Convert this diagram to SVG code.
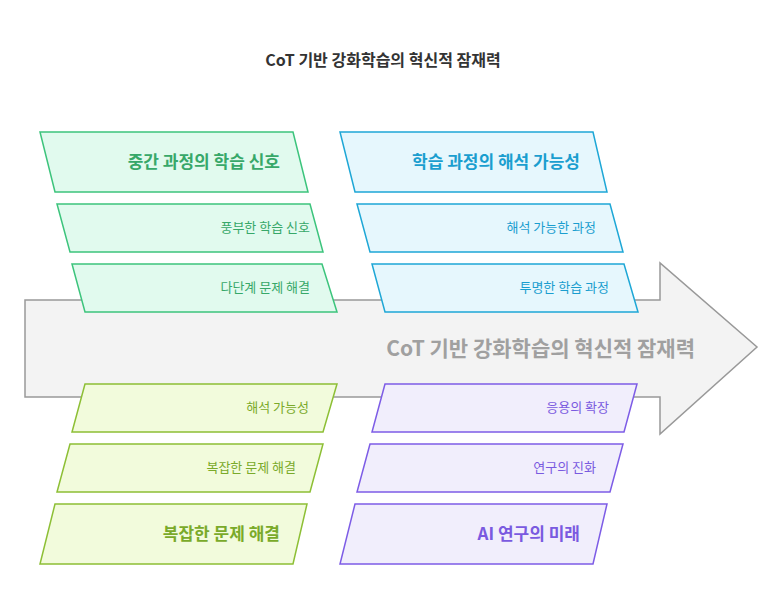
<svg xmlns="http://www.w3.org/2000/svg" width="782" height="614" viewBox="0 0 782 614">
<style>
text{font-family:"Noto Sans CJK KR","Noto Sans",sans-serif}
.t{font-size:13px;text-anchor:end}
.h{font-size:17px;font-weight:bold;text-anchor:end}
.g path{fill:#e1faee;stroke:#3cc47c;stroke-width:1.5}.g text{fill:#37a869}
.b path{fill:#e6f7fd;stroke:#1ea7d6;stroke-width:1.5}.b text{fill:#1a9ecf}
.l path{fill:#f2fbdc;stroke:#8dbf35;stroke-width:1.5}.l text{fill:#7aaa2a}
.p path{fill:#f1eefc;stroke:#7d5ce6;stroke-width:1.5}.p text{fill:#7a5ae0}
</style>
<rect width="782" height="614" fill="#fff"/>
<text x="383" y="66" text-anchor="middle" font-size="16" font-weight="bold" fill="#333">CoT 기반 강화학습의 혁신적 잠재력</text>
<g id="arrow">
<path d="M25 300H660V263L757 347L660 434V397H25Z" fill="#f3f3f3" stroke="#999" stroke-width="1.5"/>
<text x="695" y="356" text-anchor="end" font-size="21" font-weight="bold" fill="#a0a0a0">CoT 기반 강화학습의 혁신적 잠재력</text>
</g>
<g id="connectors"></g>
<g id="green" class="g">
<g id="g1"><path d="M40 132H293L308 192H55Z"/><text class="h" x="280" y="168">중간 과정의 학습 신호</text></g>
<g id="g2"><path d="M57 204H310L323 252H70Z"/><text class="t" x="310" y="232">풍부한 학습 신호</text></g>
<g id="g3"><path d="M72 264H322L337 312H85Z"/><text class="t" x="310" y="292">다단계 문제 해결</text></g>
</g>
<g id="blue" class="b">
<g id="b1"><path d="M340 132H593L607 192H355Z"/><text class="h" x="580" y="168">학습 과정의 해석 가능성</text></g>
<g id="b2"><path d="M357 204H610L623 252H370Z"/><text class="t" x="596" y="232">해석 가능한 과정</text></g>
<g id="b3"><path d="M372 264H624L638 312H385Z"/><text class="t" x="609" y="292">투명한 학습 과정</text></g>
</g>
<g id="lime" class="l">
<g id="l1"><path d="M85 384H337L323 432H72Z"/><text class="t" x="309" y="412">해석 가능성</text></g>
<g id="l2"><path d="M70 444H323L310 492H57Z"/><text class="t" x="296" y="472">복잡한 문제 해결</text></g>
<g id="l3"><path d="M55 504H307L293 564H40Z"/><text class="h" x="280" y="540">복잡한 문제 해결</text></g>
</g>
<g id="purple" class="p">
<g id="p1"><path d="M385 384H637L624 432H372Z"/><text class="t" x="609" y="412">응용의 확장</text></g>
<g id="p2"><path d="M370 444H623L610 492H357Z"/><text class="t" x="596" y="472">연구의 진화</text></g>
<g id="p3"><path d="M355 504H607L593 564H340Z"/><text class="h" x="580" y="540">AI 연구의 미래</text></g>
</g>
</svg>
